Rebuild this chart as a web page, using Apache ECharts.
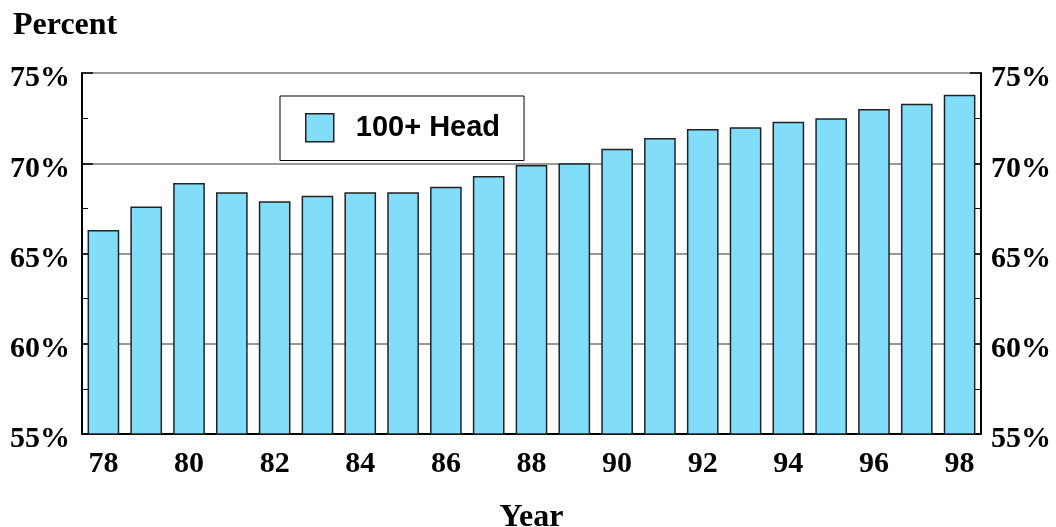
<!DOCTYPE html>
<html>
<head>
<meta charset="utf-8">
<script src="https://cdn.jsdelivr.net/npm/echarts@6/dist/echarts.min.js"></script>
<style>
  html, body { margin: 0; padding: 0; background: #fff; }
  #chart { width: 1056px; height: 527px; }
</style>
</head>
<body>
<div id="chart"></div>
<script>
  // data
  var years = ['78', '79', '80', '81', '82', '83', '84', '85', '86', '87', '88',
               '89', '90', '91', '92', '93', '94', '95', '96', '97', '98'];
  var head100 = [66.3, 67.6, 68.9, 68.4, 67.9, 68.2, 68.4, 68.4, 68.7, 69.3, 69.9,
                 70.0, 70.8, 71.4, 71.9, 72.0, 72.3, 72.5, 73.0, 73.3, 73.8];
  var yTicks = [55, 60, 65, 70, 75];

  var serif = "'Liberation Serif', 'Times New Roman', serif";
  var sans = "'Liberation Sans', Arial, sans-serif";

  var chart = echarts.init(document.getElementById('chart'));

  function yAxisDef(pos) {
    return {
      type: 'value',
      position: pos,
      min: yTicks[0],
      max: yTicks[yTicks.length - 1],
      interval: 5,
      axisLine: { show: true, lineStyle: { color: '#000', width: 2 } },
      axisTick: { show: true, inside: true, length: 11, lineStyle: { color: '#000', width: 1.5 } },
      minorTick: { show: true, splitNumber: 2, length: 6, lineStyle: { color: '#000', width: 1 } },
      axisLabel: {
        formatter: '{value}%',
        fontFamily: serif, fontWeight: 'bold', fontSize: 30, color: '#000',
        margin: pos === 'left' ? 12 : 10,
        verticalAlign: 'top',
        lineHeight: 11
      },
      splitLine: pos === 'left'
        ? { show: true, lineStyle: { color: '#777', width: 1.5 } }
        : { show: false }
    };
  }

  chart.setOption({
    animation: false,
    backgroundColor: '#fff',
    title: {
      text: 'Percent',
      left: 8, top: 5,
      textStyle: { fontFamily: serif, fontWeight: 'bold', fontSize: 32, color: '#000' }
    },
    legend: {
      data: ['100+ Head'],
      left: 280, top: 96,
      icon: 'rect',
      backgroundColor: '#fff',
      borderColor: '#000',
      borderWidth: 1,
      padding: [17, 24, 18, 25],
      itemWidth: 28, itemHeight: 28,
      itemStyle: { borderColor: '#222', borderWidth: 1.5 },
      textStyle: { fontFamily: sans, fontWeight: 'bold', fontSize: 29, color: '#000', padding: [0, 0, 0, 17] }
    },
    grid: { left: 82, right: 75, top: 73, bottom: 93, outerBoundsMode: 'none' },
    xAxis: {
      type: 'category',
      data: years,
      boundaryGap: true,
      name: 'Year',
      nameLocation: 'middle',
      nameGap: 68,
      nameTextStyle: { fontFamily: serif, fontWeight: 'bold', fontSize: 32, color: '#000' },
      axisLine: { show: true, lineStyle: { color: '#000', width: 2 } },
      axisTick: { show: true, inside: true, alignWithLabel: true, interval: 0, length: 10,
                  lineStyle: { color: '#333', width: 1.5 } },
      axisLabel: { interval: 1, fontFamily: serif, fontWeight: 'bold', fontSize: 30, color: '#000', margin: 15 },
      splitLine: { show: false }
    },
    yAxis: [yAxisDef('left'), yAxisDef('right')],
    series: [{
      name: '100+ Head',
      type: 'bar',
      data: head100,
      barCategoryGap: '26%',
      itemStyle: { color: '#82DDFB', borderColor: '#222', borderWidth: 1.5 }
    }]
  });
</script>
</body>
</html>
